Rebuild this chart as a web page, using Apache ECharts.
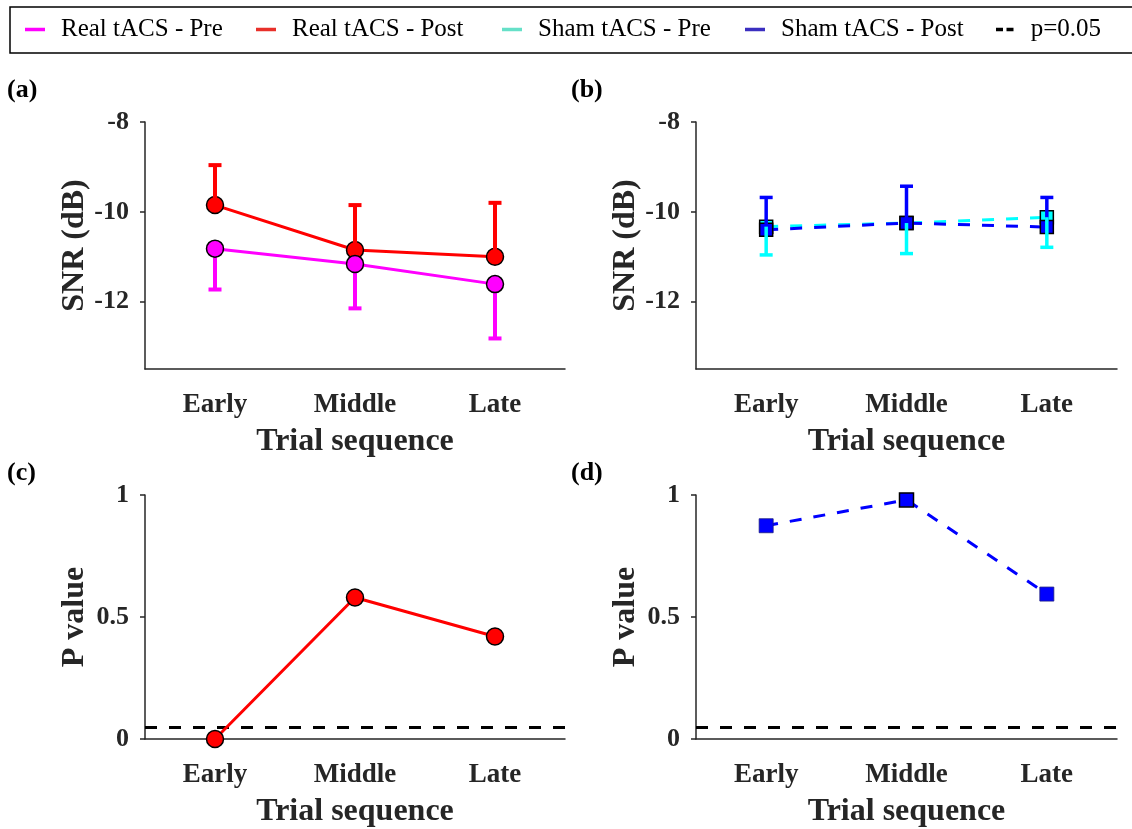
<!DOCTYPE html>
<html>
<head>
<meta charset="utf-8">
<script src="https://cdn.jsdelivr.net/npm/echarts@6/dist/echarts.min.js"></script>
<style>
html,body{margin:0;padding:0;background:#fff;}
#chart{width:1132px;height:829px;}
</style>
</head>
<body>
<div id="chart"></div>
<script>
// ---- data ----
const categories = ['Early', 'Middle', 'Late'];
const realPre = [-10.82, -11.16, -11.61];
const realPreLower = [-11.73, -12.15, -12.82];
const realPost = [-9.85, -10.85, -11.0];
const realPostUpper = [-8.96, -9.85, -9.80];
const shamPre = [-10.33, -10.25, -10.12];
const shamPreLower = [-10.96, -10.93, -10.79];
const shamPost = [-10.40, -10.25, -10.34];
const shamPostUpper = [-9.68, -9.43, -9.68];
const pReal = [0.0, 0.58, 0.42];
const pSham = [0.874, 0.98, 0.594];
const pThreshold = 0.05;
const snrTicks = [-12, -10, -8];

const AX = '#262626';
const FONT = 'Liberation Serif';

const chart = echarts.init(document.getElementById('chart'));

function errData(vals, ends) {
  return vals.map((v, i) => [i, v, ends[i]]);
}
function errSeries(name, vals, ends, color, xi, yi, z, lw) {
  return {
    name: name, type: 'custom', xAxisIndex: xi, yAxisIndex: yi, z: z,
    clip: false,
    data: errData(vals, ends),
    renderItem: function (params, api) {
      const p = api.coord([api.value(0), api.value(1)]);
      const q = api.coord([api.value(0), api.value(2)]);
      const style = { stroke: color, lineWidth: lw };
      return {
        type: 'group',
        children: [
          { type: 'line', shape: { x1: p[0], y1: p[1], x2: q[0], y2: q[1] }, style: style },
          { type: 'line', shape: { x1: q[0] - 6.5, y1: q[1], x2: q[0] + 6.5, y2: q[1] }, style: style }
        ]
      };
    }
  };
}

function xAxis(gi) {
  return {
    type: 'category', gridIndex: gi, data: categories, boundaryGap: true,
    axisLine: { lineStyle: { color: AX, width: 1.5 } },
    axisTick: { alignWithLabel: true, length: 5, lineStyle: { color: AX, width: 1.5 } },
    axisLabel: { color: AX, fontFamily: FONT, fontWeight: 'bold', fontSize: 27, margin: 23 },
    name: 'Trial sequence', nameLocation: 'middle', nameGap: 57,
    nameTextStyle: { color: AX, fontFamily: FONT, fontWeight: 'bold', fontSize: 32 },
    splitLine: { show: false }
  };
}
function yAxis(gi, name, min, max, opts) {
  const a = {
    type: 'value', gridIndex: gi, min: min, max: max,
    axisLine: { show: true, lineStyle: { color: AX, width: 1.5 } },
    axisTick: { show: true, length: 5, lineStyle: { color: AX, width: 1.5 } },
    axisLabel: { color: AX, fontFamily: FONT, fontWeight: 'bold', fontSize: 26, margin: 16 },
    splitLine: { show: false },
    name: name, nameLocation: 'middle', nameGap: 54,
    nameTextStyle: { color: AX, fontFamily: FONT, fontWeight: 'bold', fontSize: 32 }
  };
  if (opts && opts.ticks) {
    a.axisTick.customValues = opts.ticks;
    a.axisLabel.customValues = opts.ticks;
  }
  if (opts && opts.interval) a.interval = opts.interval;
  return a;
}

const legendItems = [
  { name: 'Real tACS - Pre', left: 25, color: '#FF00FF', icon: 'rect' },
  { name: 'Real tACS - Post', left: 256, color: '#E8302A', icon: 'rect' },
  { name: 'Sham tACS - Pre', left: 502, color: '#66E0C8', icon: 'rect' },
  { name: 'Sham tACS - Post', left: 745, color: '#3B2FC0', icon: 'rect' },
  { name: 'p=0.05', left: 996, color: '#000000', icon: 'path://M0,0H8V4H0Z M12,0H20V4H12Z' }
];

const legends = legendItems.map(it => ({
  left: it.left, top: 17, padding: 0, itemWidth: 20, itemHeight: 3.5,
  data: [{ name: it.name, icon: it.icon, itemStyle: { color: it.color, borderWidth: 0 } }],
  textStyle: { fontFamily: FONT, fontSize: 25, color: '#000', padding: [0, 0, 0, 11] },
  selectedMode: false
}));

const titleStyle = { fontFamily: FONT, fontWeight: 'bold', fontSize: 26, fill: '#000' };

const option = {
  animation: false,
  backgroundColor: '#fff',
  legend: legends,
  graphic: [
    { type: 'rect', shape: { x: 10, y: 7, width: 1135, height: 46 }, style: { fill: 'none', stroke: '#000', lineWidth: 1.5 }, silent: true },
    { type: 'text', left: 7, top: 77, style: Object.assign({ text: '(a)' }, titleStyle) },
    { type: 'text', left: 571, top: 77, style: Object.assign({ text: '(b)' }, titleStyle) },
    { type: 'text', left: 7, top: 460, style: Object.assign({ text: '(c)' }, titleStyle) },
    { type: 'text', left: 571, top: 460, style: Object.assign({ text: '(d)' }, titleStyle) }
  ],
  grid: [
    { left: 145, top: 122, width: 420, height: 247 },
    { left: 696, top: 122, width: 421, height: 247 },
    { left: 145, top: 495, width: 420, height: 247 },
    { left: 696, top: 495, width: 421, height: 247 }
  ],
  xAxis: [xAxis(0), xAxis(1), xAxis(2), xAxis(3)],
  yAxis: [
    yAxis(0, 'SNR (dB)', -13.5, -8, { ticks: snrTicks }),
    yAxis(1, 'SNR (dB)', -13.5, -8, { ticks: snrTicks }),
    yAxis(2, 'P value', 0, 1, { interval: 0.5 }),
    yAxis(3, 'P value', 0, 1, { interval: 0.5 })
  ],
  series: [
    // Panel (a)
    {
      name: 'Real tACS - Post', type: 'line', xAxisIndex: 0, yAxisIndex: 0, z: 3,
      data: realPost, symbol: 'circle', symbolSize: 17,
      lineStyle: { color: '#FF0000', width: 3 },
      itemStyle: { color: '#FF0000', borderColor: '#000', borderWidth: 1.5 }
    },
    errSeries('Real tACS - Post', realPost, realPostUpper, '#FF0000', 0, 0, 4, 4),
    errSeries('Real tACS - Pre', realPre, realPreLower, '#FF00FF', 0, 0, 5, 4),
    {
      name: 'Real tACS - Pre', type: 'line', xAxisIndex: 0, yAxisIndex: 0, z: 6,
      data: realPre, symbol: 'circle', symbolSize: 17,
      lineStyle: { color: '#FF00FF', width: 3 },
      itemStyle: { color: '#FF00FF', borderColor: '#000', borderWidth: 1.5 }
    },
    // Panel (b)
    {
      name: 'Sham tACS - Pre', type: 'line', xAxisIndex: 1, yAxisIndex: 1, z: 3,
      data: shamPre, symbol: 'rect', symbolSize: 13,
      lineStyle: { color: '#00FFFF', width: 3, type: [12, 12] },
      itemStyle: { color: '#00FFFF', borderColor: '#000', borderWidth: 1.5 }
    },
    {
      name: 'Sham tACS - Post', type: 'line', xAxisIndex: 1, yAxisIndex: 1, z: 4,
      data: shamPost, symbol: 'rect', symbolSize: 13,
      lineStyle: { color: '#0000FF', width: 3, type: [12, 12] },
      itemStyle: { color: '#0000FF', borderColor: '#000', borderWidth: 1.5 }
    },
    errSeries('Sham tACS - Post', shamPost, shamPostUpper, '#0000FF', 1, 1, 5, 3.5),
    errSeries('Sham tACS - Pre', shamPre, shamPreLower, '#00FFFF', 1, 1, 6, 3.5),
    // Panel (c)
    {
      name: 'Real tACS - Post', type: 'line', xAxisIndex: 2, yAxisIndex: 2, z: 5, clip: false,
      data: pReal, symbol: 'circle', symbolSize: 17,
      lineStyle: { color: '#FF0000', width: 3 },
      itemStyle: { color: '#FF0000', borderColor: '#000', borderWidth: 1.5 }
    },
    {
      name: 'p=0.05', type: 'line', xAxisIndex: 2, yAxisIndex: 2, z: 3, data: [],
      markLine: {
        silent: true, symbol: 'none', label: { show: false },
        lineStyle: { color: '#000', width: 3, type: [12, 12] },
        data: [{ yAxis: pThreshold }]
      }
    },
    // Panel (d)
    {
      name: 'Sham tACS - Post', type: 'line', xAxisIndex: 3, yAxisIndex: 3, z: 5, clip: false,
      data: pSham.map((v, i) => i === 1
        ? { value: v, itemStyle: { borderColor: '#000', borderWidth: 1.5 } }
        : v),
      symbol: 'rect', symbolSize: 14,
      lineStyle: { color: '#0000FF', width: 3, type: [12, 12] },
      itemStyle: { color: '#0000FF', borderColor: '#1a1a80', borderWidth: 0.8 }
    },
    {
      name: 'p=0.05', type: 'line', xAxisIndex: 3, yAxisIndex: 3, z: 3, data: [],
      markLine: {
        silent: true, symbol: 'none', label: { show: false },
        lineStyle: { color: '#000', width: 3, type: [12, 12] },
        data: [{ yAxis: pThreshold }]
      }
    }
  ]
};

chart.setOption(option);
</script>
</body>
</html>
